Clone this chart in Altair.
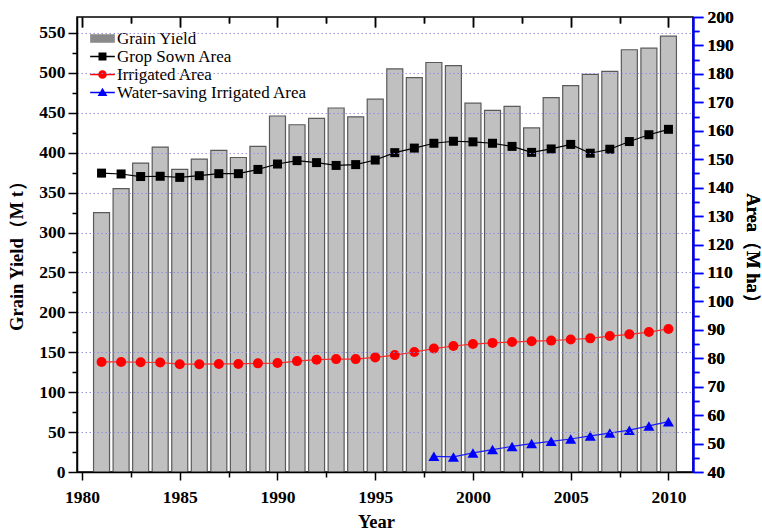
import altair as alt
import pandas as pd

# ---- data -------------------------------------------------------------
years = list(range(1981, 2011))
grain_yield = [325, 355, 387, 407, 379, 392, 403, 394, 408, 446,
               435, 443, 456, 445, 467, 505, 494, 513, 509, 462,
               453, 458, 431, 469, 484, 498, 502, 529, 531, 546]
sown_area = [145.1, 144.8, 143.9, 144.0, 143.6, 144.2, 144.9, 144.9, 146.4, 148.3,
             149.5, 148.8, 147.8, 148.1, 149.7, 152.3, 153.9, 155.6, 156.3, 156.1,
             155.6, 154.5, 152.4, 153.6, 155.2, 152.1, 153.5, 156.2, 158.6, 160.5]
irrigated_area = [78.7, 78.7, 78.6, 78.5, 77.9, 77.9, 78.0, 78.0, 78.2, 78.3,
                  79.0, 79.5, 79.7, 79.7, 80.3, 81.1, 82.2, 83.4, 84.3, 85.0,
                  85.4, 85.7, 86.0, 86.2, 86.6, 87.0, 87.8, 88.4, 89.2, 90.3]
ws_years = list(range(1998, 2011))
ws_area = [45.5, 45.3, 46.7, 47.9, 49.0, 50.0, 50.8, 51.6, 52.7, 53.7, 54.7, 56.2, 57.7]

series_names = ["Grain Yield", "Grop Sown Area", "Irrigated Area", "Water-saving Irrigated Area"]
legend_colors = ["#8a8a8a", "#000000", "#ff0000", "#0000ff"]

# legend glyphs: a bar swatch, then line-through-marker symbols
_line = "M-1.3,-0.07L1.3,-0.07L1.3,0.07L-1.3,0.07Z"
legend_paths = [
    "M-1.3,-0.45L1.3,-0.45L1.3,0.45L-1.3,0.45Z",
    _line + "M-0.42,-0.42L0.42,-0.42L0.42,0.42L-0.42,0.42Z",
    _line + "M0.46,0A0.46,0.46,0,1,1,-0.46,0A0.46,0.46,0,1,1,0.46,0Z",
    _line + "M0,-0.5L0.52,0.38L-0.52,0.38Z",
]

FONT = "Liberation Serif"

bar_df = pd.DataFrame({"year": years, "grain": grain_yield})
sown_df = pd.DataFrame({"year": years, "area": sown_area})
irr_df = pd.DataFrame({"year": years, "area": irrigated_area})
ws_df = pd.DataFrame({"year": ws_years, "area": ws_area})
legend_df = pd.DataFrame({"series": series_names})

# ---- scales & axes ----------------------------------------------------
x_scale = alt.Scale(domain=[1980, 2011], nice=False, zero=False)
left_scale = alt.Scale(domain=[0, 570], nice=False, zero=False)
right_scale = alt.Scale(domain=[40, 200], nice=False, zero=False)

x_ticks = [1980 + 2.5 * i for i in range(13)]
major5 = "datum.value % 5 === 0"

label_style = dict(labelFont=FONT, labelFontSize=17.5, labelFontWeight="bold",
                   labelColor="black", labelOverlap=False, labelFlush=False)
title_style = dict(titleFont=FONT, titleFontSize=18.5, titleFontWeight="bold",
                   titleColor="black", titleAlign="center", titleBaseline="middle")

bottom_axis = alt.Axis(
    values=x_ticks, format="d",
    labelExpr=f"{major5} ? datum.label : ''",
    tickSize={"condition": {"test": major5, "value": 8}, "value": 5},
    tickColor="black", tickWidth=1.5, domainColor="black", domainWidth=1.5,
    labelPadding=8, grid=False, zindex=1,
    title="Year", titleX=299, titleY=49,
    **label_style, **title_style,
)

# mirrored top axis: ticks pointing into the plot
top_axis = alt.Axis(
    orient="top", values=x_ticks, labels=False, domain=False, offset=-10,
    tickSize=10, tickColor="black", tickWidth=1.5,
    tickDash={"condition": {"test": major5, "value": [10, 0]}, "value": [0, 4, 6, 20]},
    grid=False, title=None,
)

left_axis = alt.Axis(
    values=list(range(0, 551, 25)),
    labelExpr="datum.value % 50 === 0 ? datum.label : ''",
    tickSize={"condition": {"test": "datum.value % 50 === 0", "value": 9}, "value": 5},
    tickColor="black", tickWidth=1.5, domainColor="black", domainWidth=1.5,
    labelPadding=3, zindex=1,
    grid=True, gridColor="#8c8cd6", gridDash=[1.5, 2.5], gridWidth=1,
    gridOpacity={"condition": {"test": "datum.value % 50 === 0 && datum.value > 0", "value": 0.9}, "value": 0},
    title="Grain Yield（M t）", titleAngle=270, titleX=-61, titleY=234,
    **label_style, **title_style,
)

right_axis = alt.Axis(
    orient="right", values=list(range(40, 201, 5)),
    labelExpr="datum.value % 10 === 0 ? datum.label : ''",
    tickSize={"condition": {"test": "datum.value % 10 === 0", "value": 10}, "value": 6},
    tickColor="#0000ff", tickWidth=1.5, domainColor="#0000ff", domainWidth=2,
    labelPadding=4, grid=False, zindex=1,
    title="Area（M ha）", titleAngle=90, titleX=59, titleY=235,
    **label_style, **title_style,
)

# ---- marks ------------------------------------------------------------
bars = alt.Chart(bar_df).mark_bar(
    size=16, fill="#c0c0c0", stroke="#5a5a5a", strokeWidth=1.2
).encode(
    x=alt.X("year:Q", scale=x_scale, axis=bottom_axis),
    y=alt.Y("grain:Q", scale=left_scale, axis=left_axis),
)

area_series = [
    (sown_df, "#000000", "#000000", "square", 81),
    (irr_df, "#ff2a2a", "#ff0000", "circle", 100),
    (ws_df, "#1a1aff", "#0000ff", "triangle-up", 121),
]

area_layers = []
for i, (df, line_color, mark_color, shape, size) in enumerate(area_series):
    base = alt.Chart(df).encode(
        x=alt.X("year:Q", scale=x_scale, axis=top_axis if i == 0 else None),
        y=alt.Y("area:Q", scale=right_scale, axis=right_axis if i == 0 else None),
    )
    area_layers.append(base.mark_line(color=line_color, strokeWidth=1.2))
    area_layers.append(base.mark_point(shape=shape, size=size, filled=True,
                                       color=mark_color, opacity=1))

legend = alt.Legend(
    title=None, orient="none", legendX=16, legendY=12, padding=0,
    symbolSize=361, symbolStrokeWidth=0, symbolOpacity=1,
    labelFont=FONT, labelFontSize=17, labelColor="black",
    labelOffset=5, rowPadding=0, labelLimit=400,
)

legend_layer = alt.Chart(legend_df).transform_filter("false").mark_point(
    filled=True, opacity=1
).encode(
    shape=alt.Shape("series:N", scale=alt.Scale(domain=series_names, range=legend_paths), legend=legend),
    color=alt.Color("series:N", scale=alt.Scale(domain=series_names, range=legend_colors), legend=legend),
)

right_side = alt.layer(*area_layers, legend_layer).resolve_axis(
    x="independent", y="independent"
)

chart = alt.layer(bars, right_side).resolve_scale(
    y="independent"
).resolve_axis(
    x="independent"
).properties(
    width=616, height=455,
    autosize=alt.AutoSizeParams(type="none"),
    padding={"left": 77, "top": 17, "right": 69, "bottom": 58},
    background="white",
).configure(
    font=FONT
).configure_view(
    stroke="black", strokeWidth=1.5
)

chart.save("out.html", embed_options={"renderer": "svg", "actions": False})
